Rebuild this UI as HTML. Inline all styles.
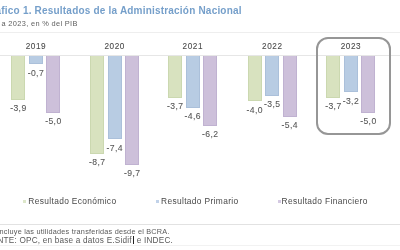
<!DOCTYPE html>
<html><head><meta charset="utf-8">
<style>
html,body{margin:0;padding:0;}
body{width:400px;height:250px;background:#fff;position:relative;overflow:hidden;font-family:"Liberation Sans",sans-serif;}
.abs{position:absolute;white-space:nowrap;line-height:1;}
.title{position:absolute;white-space:nowrap;line-height:1;font-weight:bold;font-size:10px;letter-spacing:0.2px;color:#759fca;left:-16.5px;top:5.5px;}
.sub{position:absolute;white-space:nowrap;line-height:1;font-size:7.4px;letter-spacing:0.34px;color:#5f5f5f;left:1.5px;top:19.5px;}
.hl{position:absolute;left:0;width:400px;height:1px;}
.bar{position:absolute;width:12px;border:1px solid;border-top:none;box-sizing:content-box;}
.yr{position:absolute;width:40px;text-align:center;white-space:nowrap;line-height:1;font-size:8.2px;letter-spacing:0.55px;color:#4a4a4a;top:42.6px;-webkit-text-stroke:0.1px #4a4a4a;}
.lab{position:absolute;width:30px;text-align:center;white-space:nowrap;line-height:1;font-size:8.6px;letter-spacing:0.4px;color:#555;-webkit-text-stroke:0.08px #555;}
.leg{position:absolute;white-space:nowrap;line-height:1;font-size:8.4px;letter-spacing:0.35px;color:#484848;top:196.8px;}
.mk{position:absolute;width:3.5px;height:3.5px;top:199.7px;opacity:0.8}
.foot{position:absolute;white-space:nowrap;line-height:1;color:#5a5a5a;}
.box{position:absolute;left:316px;top:36.7px;width:71px;height:94.8px;border:2px solid #969696;border-radius:12px;}
</style></head><body><div style="position:absolute;left:0;top:0;width:400px;height:250px;filter:blur(0.3px)">
<div class="title">Gráfico 1. Resultados de la Administración Nacional</div>
<div class="sub">a 2023, en % del PIB</div>
<div class="hl" style="top:32px;background:#eeeeee"></div>
<div class="hl" style="top:55px;background:#e6e6e6"></div>
<div class="yr" style="left:15.90px">2019</div>
<div class="bar" style="left:11.40px;top:55.50px;height:43.68px;background:#d8e2bf;border-color:#cbd8b0"></div>
<div class="lab" style="left:3.40px;top:104.38px">-3,9</div>
<div class="bar" style="left:28.90px;top:55.50px;height:7.84px;background:#b8cce3;border-color:#abc0da"></div>
<div class="lab" style="left:20.90px;top:68.54px">-0,7</div>
<div class="bar" style="left:46.40px;top:55.50px;height:56.00px;background:#cdc0da;border-color:#c0b2d1"></div>
<div class="lab" style="left:38.40px;top:116.70px">-5,0</div>
<div class="yr" style="left:94.70px">2020</div>
<div class="bar" style="left:90.20px;top:55.50px;height:97.44px;background:#d8e2bf;border-color:#cbd8b0"></div>
<div class="lab" style="left:82.20px;top:158.14px">-8,7</div>
<div class="bar" style="left:107.70px;top:55.50px;height:82.88px;background:#b8cce3;border-color:#abc0da"></div>
<div class="lab" style="left:99.70px;top:143.58px">-7,4</div>
<div class="bar" style="left:125.20px;top:55.50px;height:108.64px;background:#cdc0da;border-color:#c0b2d1"></div>
<div class="lab" style="left:117.20px;top:169.34px">-9,7</div>
<div class="yr" style="left:172.80px">2021</div>
<div class="bar" style="left:168.30px;top:55.50px;height:41.44px;background:#d8e2bf;border-color:#cbd8b0"></div>
<div class="lab" style="left:160.30px;top:102.14px">-3,7</div>
<div class="bar" style="left:185.80px;top:55.50px;height:51.52px;background:#b8cce3;border-color:#abc0da"></div>
<div class="lab" style="left:177.80px;top:112.22px">-4,6</div>
<div class="bar" style="left:203.30px;top:55.50px;height:69.44px;background:#cdc0da;border-color:#c0b2d1"></div>
<div class="lab" style="left:195.30px;top:130.14px">-6,2</div>
<div class="yr" style="left:252.30px">2022</div>
<div class="bar" style="left:247.80px;top:55.50px;height:44.80px;background:#d8e2bf;border-color:#cbd8b0"></div>
<div class="lab" style="left:239.80px;top:105.50px">-4,0</div>
<div class="bar" style="left:265.30px;top:55.50px;height:39.20px;background:#b8cce3;border-color:#abc0da"></div>
<div class="lab" style="left:257.30px;top:99.90px">-3,5</div>
<div class="bar" style="left:282.80px;top:55.50px;height:60.48px;background:#cdc0da;border-color:#c0b2d1"></div>
<div class="lab" style="left:274.80px;top:121.18px">-5,4</div>
<div class="yr" style="left:330.90px">2023</div>
<div class="bar" style="left:326.40px;top:55.50px;height:41.44px;background:#d8e2bf;border-color:#cbd8b0"></div>
<div class="lab" style="left:318.40px;top:102.14px">-3,7</div>
<div class="bar" style="left:343.90px;top:55.50px;height:35.84px;background:#b8cce3;border-color:#abc0da"></div>
<div class="lab" style="left:335.90px;top:96.54px">-3,2</div>
<div class="bar" style="left:361.40px;top:55.50px;height:56.00px;background:#cdc0da;border-color:#c0b2d1"></div>
<div class="lab" style="left:353.40px;top:116.70px">-5,0</div>
<div class="box"></div>
<div class="mk" style="left:22.7px;background:#d5e1bd"></div>
<div class="leg" style="left:28.3px">Resultado Económico</div>
<div class="mk" style="left:155.5px;background:#b2c7e3"></div>
<div class="leg" style="left:161px">Resultado Primario</div>
<div class="mk" style="left:277.5px;background:#c9bcdb"></div>
<div class="leg" style="left:281.5px">Resultado Financiero</div>
<div class="hl" style="top:224px;background:#e2e2e2"></div>
<div class="foot" style="left:-0.5px;top:228px;font-size:7.3px;letter-spacing:0.22px">ncluye las utilidades transferidas desde el BCRA.</div>
<div class="foot" style="left:-2.6px;top:236.2px;font-size:8.2px;letter-spacing:0.21px">NTE: OPC, en base a datos E.Sidif<span style="display:inline-block;width:1px;height:8px;background:#222;margin:0 0.5px 0 1px;vertical-align:-1.5px"></span> e INDEC.</div>
<div class="hl" style="top:245px;background:#f2f2f2"></div>
</div></body></html>
